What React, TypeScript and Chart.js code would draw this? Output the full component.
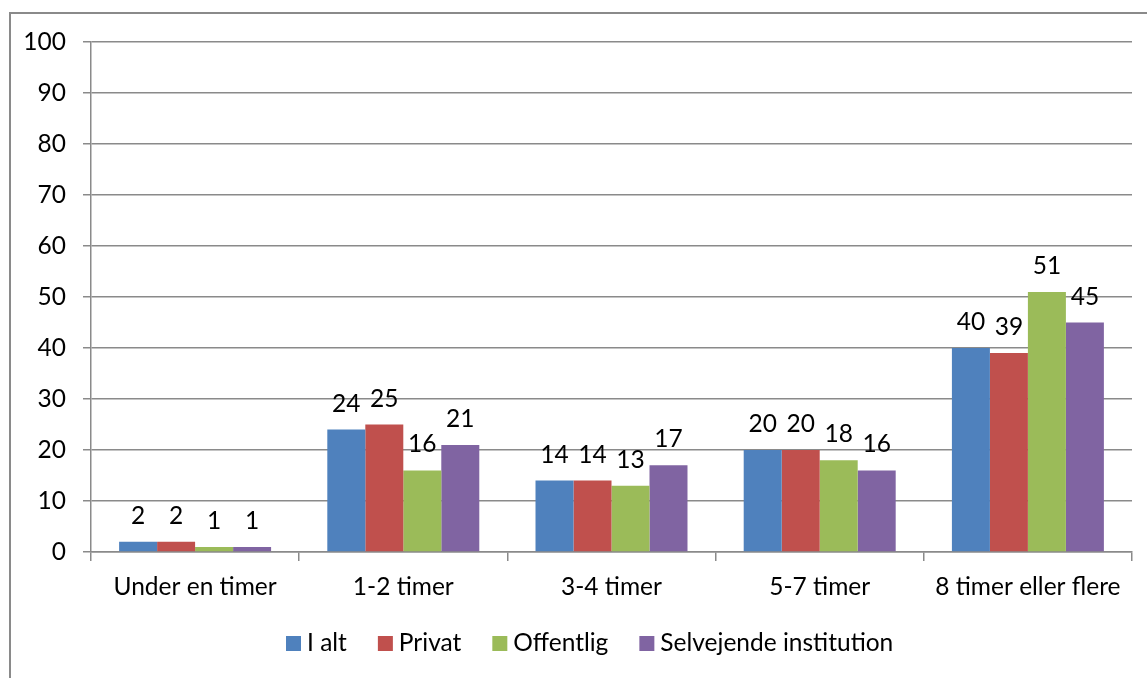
import React, { useEffect, useRef } from "react";
import { Chart, registerables } from "chart.js";

Chart.register(...registerables);

const categories = ["Under en timer", "1-2 timer", "3-4 timer", "5-7 timer", "8 timer eller flere"];
const seriesNames = ["I alt", "Privat", "Offentlig", "Selvejende institution"];
const iAlt = [2, 24, 14, 20, 40];
const privat = [2, 25, 14, 20, 39];
const offentlig = [1, 16, 13, 18, 51];
const selvejende = [1, 21, 17, 16, 45];
const colors = ["#4F81BD", "#C0504D", "#9BBB59", "#8064A2"];
const yTicks = [0, 10, 20, 30, 40, 50, 60, 70, 80, 90, 100];

const FONT = "Lato, 'Open Sans', sans-serif";
const FS = 24.5;
const GRID = "#8a8a8a";

export default function App() {
  const ref = useRef<HTMLCanvasElement | null>(null);

  useEffect(() => {
    if (!ref.current) return;
    const values = [iAlt, privat, offentlig, selvejende];

    const framePlugin = {
      id: "frame",
      beforeDraw(chart: any) {
        const ctx = chart.ctx;
        ctx.save();
        ctx.fillStyle = "#ffffff";
        ctx.fillRect(0, 0, chart.width, chart.height);
        ctx.strokeStyle = GRID;
        ctx.lineWidth = 2;
        ctx.strokeRect(10, 13, chart.width + 20, chart.height + 20);
        ctx.restore();
      },
    };

    const labelPlugin = {
      id: "barLabels",
      afterDatasetsDraw(chart: any) {
        const ctx = chart.ctx;
        ctx.save();
        ctx.font = `${FS}px ${FONT}`;
        ctx.fillStyle = "#000";
        ctx.textAlign = "center";
        ctx.textBaseline = "alphabetic";
        chart.data.datasets.forEach((ds: any, i: number) => {
          const meta = chart.getDatasetMeta(i);
          meta.data.forEach((bar: any, j: number) => {
            ctx.fillText(String(ds.data[j]), bar.x, bar.y - 18);
          });
        });
        ctx.restore();
      },
    };

    const legendPlugin = {
      id: "customLegend",
      afterDraw(chart: any) {
        const ctx = chart.ctx;
        ctx.save();
        ctx.font = `${FS}px ${FONT}`;
        ctx.textBaseline = "middle";
        ctx.textAlign = "left";
        let x = 286;
        const cy = 643.5;
        chart.data.datasets.forEach((ds: any) => {
          ctx.fillStyle = ds.backgroundColor;
          ctx.fillRect(x, cy - 7.5, 15, 15);
          ctx.fillStyle = "#000";
          ctx.fillText(ds.label, x + 21, cy);
          x += 21 + ctx.measureText(ds.label).width + 31;
        });
        ctx.restore();
      },
    };

    const chart = new Chart(ref.current, {
      type: "bar",
      data: {
        labels: categories,
        datasets: seriesNames.map((name, i) => ({
          label: name,
          data: values[i],
          backgroundColor: colors[i],
          borderWidth: 0,
          categoryPercentage: 0.73,
          barPercentage: 1,
        })),
      },
      options: {
        responsive: false,
        animation: false,
        layout: { padding: { left: 0, top: 42, right: 15, bottom: 70 } },
        plugins: {
          legend: { display: false },
          tooltip: { enabled: false },
        },
        scales: {
          x: {
            afterFit(scale: any) {
              scale.height = 56;
            },
            grid: {
              offset: true,
              drawOnChartArea: false,
              drawTicks: true,
              tickLength: 9,
              color: GRID,
              lineWidth: 1.5,
            },
            border: { display: true, color: GRID, width: 1.5 },
            ticks: {
              font: { family: FONT, size: FS },
              color: "#000",
              padding: 11,
              maxRotation: 0,
              autoSkip: false,
            },
          },
          y: {
            min: 0,
            max: 100,
            afterFit(scale: any) {
              scale.width = 91;
            },
            afterBuildTicks(scale: any) {
              scale.ticks = yTicks.map((v) => ({ value: v }));
            },
            grid: {
              color: GRID,
              lineWidth: 1.5,
              tickLength: 8,
              drawTicks: true,
            },
            border: { display: true, color: GRID, width: 1.5 },
            ticks: {
              font: { family: FONT, size: FS },
              color: "#000",
              padding: 17,
            },
          },
        },
      },
      plugins: [framePlugin, labelPlugin, legendPlugin],
    });
    return () => chart.destroy();
  }, []);

  return (
    <div style={{ position: "fixed", left: 0, top: 0, width: 1147, height: 678 }}>
      <canvas ref={ref} width={1147} height={678} />
    </div>
  );
}
